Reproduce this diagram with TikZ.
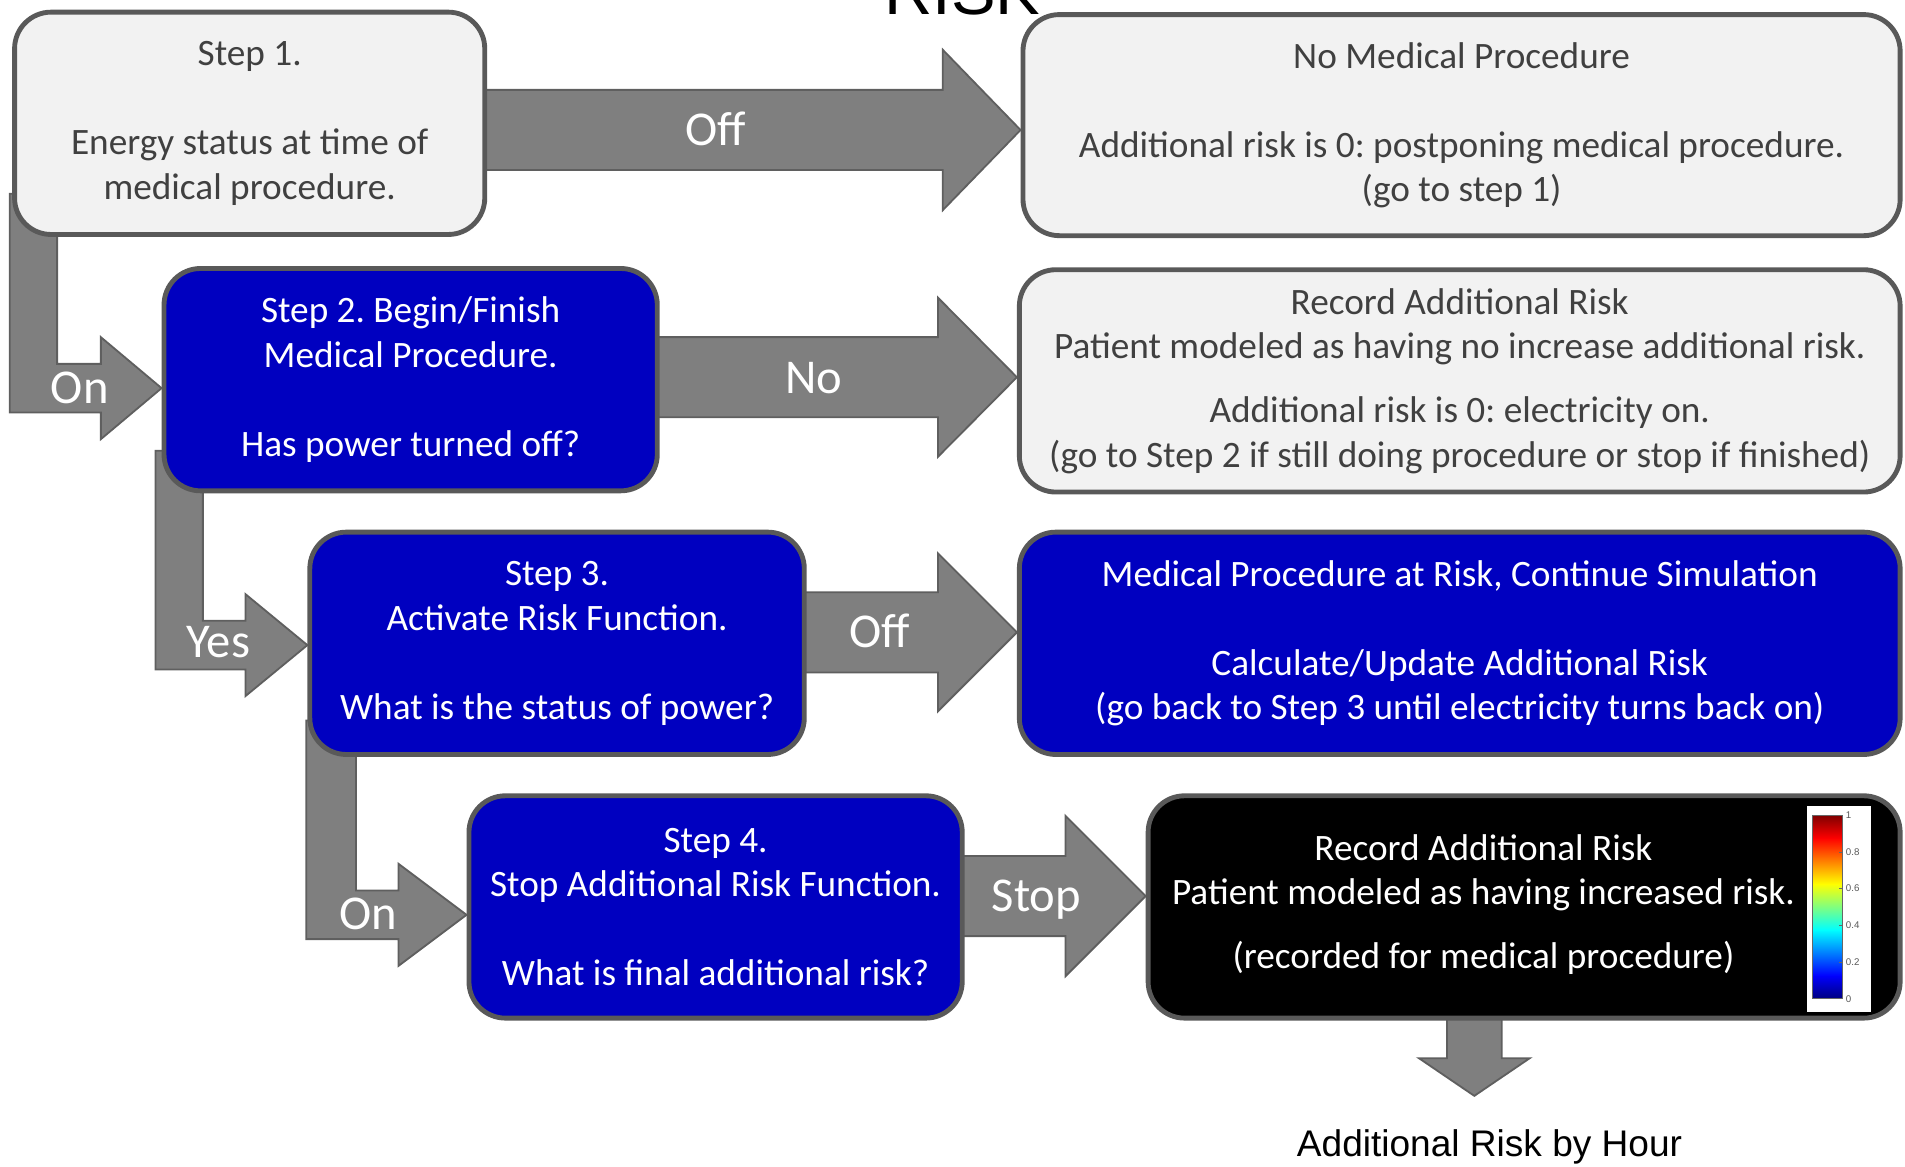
\documentclass[tikz,border=0pt]{standalone}
\usepackage{fontspec}
\setmainfont{Carlito}
\newfontfamily\arialf{Liberation Sans}
\usetikzlibrary{calc}
\frenchspacing
\definecolor{boxgray}{HTML}{F2F2F2}
\definecolor{bordergray}{HTML}{595959}
\definecolor{txtgray}{HTML}{404040}
\definecolor{stepblue}{HTML}{0000C0}
\definecolor{arrowgray}{HTML}{7F7F7F}
\definecolor{arrowedge}{HTML}{5F5F5F}
\definecolor{jetdb}{rgb}{0,0,0.5}
\definecolor{jetb}{rgb}{0,0,1}
\definecolor{jetc}{rgb}{0,1,1}
\definecolor{jety}{rgb}{1,1,0}
\definecolor{jetr}{rgb}{1,0,0}
\definecolor{jetdr}{rgb}{0.5,0,0}
\pgfdeclarelayer{bg}
\pgfsetlayers{bg,main}
% straight block arrow: #1 start, #2 tip, #3 shaft half, #4 head half, #5 head length
\newcommand{\blockarr}[5]{%
  \filldraw[blockarrow] ($(#1)+(0,#3)$) -- ($(#2)+(-#5,#3)$) -- ($(#2)+(-#5,#4)$) -- (#2)
    -- ($(#2)+(-#5,-#4)$) -- ($(#2)+(-#5,-#3)$) -- ($(#1)+(0,-#3)$) -- cycle;}
% L-shaped block arrow: #1 tip, #2 left offset, #3 right offset, #4 head length
\newcommand{\larr}[4]{%
  \filldraw[blockarrow] ($(#1)+(-#2,-160)$) -- ($(#1)+(-#3,-160)$) -- ($(#1)+(-#3,-20)$)
    -- ($(#1)+(-#4,-20)$) -- ($(#1)+(-#4,-42)$) -- (#1) -- ($(#1)+(-#4,42)$)
    -- ($(#1)+(-#4,20)$) -- ($(#1)+(-#2,20)$) -- cycle;}
\begin{document}
\begin{tikzpicture}[x=0.6pt,y=-0.6pt,
  box/.style={rounded corners=18pt, line width=2.4pt, draw=bordergray, align=center,
    inner sep=0pt, font=\fontsize{18.4}{22}\selectfont},
  graybox/.style={box, fill=boxgray, text=txtgray},
  bluebox/.style={box, fill=stepblue, text=white},
  blackbox/.style={box, fill=black, text=white},
  blockarrow/.style={fill=arrowgray, draw=arrowedge, line width=0.9pt, line join=miter},
  lbl/.style={text=white, font=\fontsize{24}{28}\selectfont, inner sep=0pt,
    text height=15.4pt, text depth=0pt, anchor=center},
  ticklbl/.style={font=\arialf\fontsize{4.8}{5}\selectfont, text=black!65, inner sep=0pt, anchor=west},
]
\useasboundingbox (0,0) rectangle (1568,960.5);

% title (cut off at top, as in the reference)
\node[font=\arialf\fontsize{33}{40}\selectfont, anchor=base, inner sep=0pt] (title) at (792,12.3) {RISK};

% boxes
\node[graybox, minimum width=232.2pt, minimum height=109.8pt] (s1) at (205.5,101.5)
  {Step 1.\\[22pt]Energy status at time of\\medical procedure.};
\node[graybox, minimum width=433.2pt, minimum height=109.2pt] (nomed) at (1203,103)
  {No Medical Procedure\\[22pt]Additional risk is 0: postponing medical procedure.\\(go to step 1)};
\node[bluebox, minimum width=243.6pt, minimum height=109.8pt] (s2) at (338,312.5)
  {Step 2. Begin/Finish\\Medical Procedure.\\[22pt]Has power turned off?};
\node[graybox, minimum width=435pt, minimum height=109.8pt] (rec) at (1201.5,313.5)
  {Record Additional Risk\\Patient modeled as having no increase additional risk.\\[9.6pt]Additional risk is 0: electricity on.\\(go to Step 2 if still doing procedure or stop if finished)};
\node[bluebox, minimum width=244.2pt, minimum height=109.8pt] (s3) at (458.5,529.5)
  {Step 3.\\Activate Risk Function.\\[22pt]What is the status of power?};
\node[bluebox, minimum width=435pt, minimum height=109.8pt] (atrisk) at (1201.5,529.5)
  {Medical Procedure at Risk, Continue Simulation\\[22pt]Calculate/Update Additional Risk\\(go back to Step 3 until electricity turns back on)};
\node[bluebox, minimum width=243.6pt, minimum height=109.8pt] (s4) at (589,746.5)
  {Step 4.\\Stop Additional Risk Function.\\[22pt]What is final additional risk?};
\node[blackbox, minimum width=371.4pt, minimum height=109.8pt] (fin) at (1254.5,746.5) {};
\node[align=center, text=white, inner sep=0pt, font=\fontsize{18.4}{22}\selectfont] (fintxt) at (1221,744.5)
  {Record Additional Risk\\Patient modeled as having increased risk.\\[9.6pt](recorded for medical procedure)};

% colour bar
\fill[white] (1487,663) rectangle (1540,833);
\shade[bottom color=jetdb, top color=jetb] (1492,822) rectangle (1516,802.8);
\shade[bottom color=jetb, top color=jetc] (1492,803.2) rectangle (1516,765.2);
\shade[bottom color=jetc, top color=jety] (1492,765.6) rectangle (1516,727.4);
\shade[bottom color=jety, top color=jetr] (1492,727.8) rectangle (1516,689.7);
\shade[bottom color=jetr, top color=jetdr] (1492,690.1) rectangle (1516,671);
\draw[black!60, line width=0.3pt] (1492,671) rectangle (1516,822);
\foreach \v/\t [count=\i] in {0/0,0.2/0.2,0.4/0.4,0.6/0.6,0.8/0.8,1/1}{
  \draw[black!60, line width=0.3pt] (1514,{822-151*\v}) -- (1516,{822-151*\v});
  \node[ticklbl] (tick\i) at (1519,{822-151*\v}) {\t};
}

% bottom caption
\node[font=\arialf\fontsize{18.3}{22}\selectfont, anchor=base, inner sep=0pt] (hour) at (1226,952) {Additional Risk by Hour};

% arrows (background layer)
\coordinate (ax1) at (0,107);
\coordinate (ax2) at (0,310.5);
\coordinate (ax3) at (0,520.5);
\coordinate (ax4) at (0,737.5);
\coordinate (ay1) at (0,319.5);
\coordinate (ay2) at (0,531);
\coordinate (ay3) at (0,753);
\coordinate (a1s) at (s1.center |- ax1);
\coordinate (a1t) at (nomed.west |- ax1);
\coordinate (a2s) at (s2.center |- ax2);
\coordinate (a2t) at (rec.west |- ax2);
\coordinate (a3s) at (s3.center |- ax3);
\coordinate (a3t) at (atrisk.west |- ax3);
\coordinate (a4s) at (s4.center |- ax4);
\coordinate (a4t) at (fin.west |- ax4);
\coordinate (l1t) at (s2.west |- ay1);
\coordinate (l2t) at (s3.west |- ay2);
\coordinate (l3t) at (s4.west |- ay3);
\coordinate (dtip) at (1213.5,902);
\coordinate (dtop) at (dtip |- fin.south);
\begin{pgfonlayer}{bg}
  \blockarr{a1s}{a1t}{33}{66}{64}
  \blockarr{a2s}{a2t}{33}{65.5}{65}
  \blockarr{a3s}{a3t}{33}{65}{65}
  \blockarr{a4s}{a4t}{33}{66}{66}
  \larr{l1t}{125}{86}{50}
  \larr{l2t}{125}{86}{51}
  \larr{l3t}{132}{91}{56}
  \filldraw[blockarrow] ($(dtop)+(-22.5,-15)$) -- ($(dtip)+(-22.5,-31)$) -- ($(dtip)+(-45.6,-31)$)
    -- (dtip) -- ($(dtip)+(45.6,-31)$) -- ($(dtip)+(22.5,-31)$) -- ($(dtop)+(22.5,-15)$) -- cycle;
\end{pgfonlayer}

% arrow labels
\node[lbl] (loff1) at (589,107) {Off};
\node[lbl] (lno) at (670,311) {No};
\node[lbl] (loff2) at (724,520) {Off};
\node[lbl] (lstop) at (853,737.5) {Stop};
\node[lbl] (lon1) at (65.7,319) {On};
\node[lbl] (lyes) at (179.7,528) {Yes};
\node[lbl] (lon2) at (303,752.4) {On};
\end{tikzpicture}
\end{document}
